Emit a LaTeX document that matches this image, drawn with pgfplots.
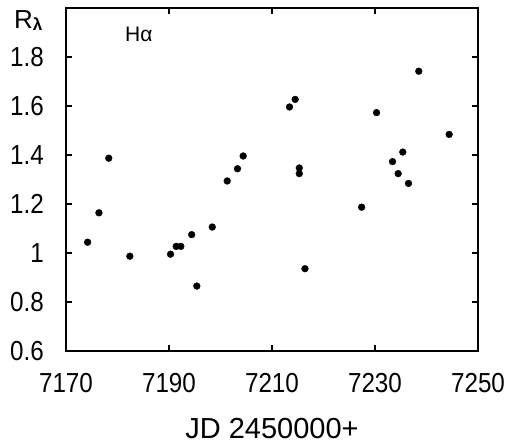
\documentclass[border=0pt]{standalone}
\usepackage{pgfplots}
\pgfplotsset{compat=1.18}
\usepackage{fontspec}
\setmainfont{Liberation Sans}
\newfontfamily\ticksfont{Liberation Sans}[FakeStretch=0.88]

\begin{document}
\begin{tikzpicture}
\path[use as bounding box] (0,0) rectangle (505pt,445pt);
\begin{axis}[
  at={(66pt,94pt)}, anchor=south west,
  scale only axis, width=412pt, height=343pt,
  xmin=7170, xmax=7250, ymin=0.6, ymax=2.0,
  xtick={7170,7190,7210,7230,7250},
  xticklabels={7170,7190,7210,7230,7250},
  ytick={0.6,0.8,1,1.2,1.4,1.6,1.8},
  yticklabels={0.6,0.8,1,1.2,1.4,1.6,1.8},
  /pgf/number format/assume math mode=true,
  tick align=inside, major tick length=6pt,
  axis line style={line width=1.6pt, black},
  tick style={line width=1.5pt, black},
  xticklabel style={font=\fontsize{27.5}{30}\selectfont\ticksfont, anchor=north, inner sep=0pt, yshift=-22pt},
  yticklabel style={font=\fontsize{27.5}{30}\selectfont\ticksfont, anchor=east, inner sep=0pt, xshift=-22pt},
  xlabel={JD 2450000+},
  xlabel style={at={(axis description cs:0.5,0)}, anchor=north, inner sep=0pt, yshift=-67pt, font=\fontsize{29}{32}\selectfont},
  clip=false,
]
\addplot[only marks, mark=*, mark size=3.4pt, black] coordinates {
(7174.2,1.044)
(7176.4,1.164)
(7178.3,1.387)
(7182.4,0.987)
(7190.3,0.995)
(7191.4,1.027)
(7192.3,1.027)
(7194.4,1.075)
(7195.4,0.865)
(7198.4,1.106)
(7201.3,1.294)
(7203.3,1.344)
(7204.4,1.396)
(7213.4,1.596)
(7214.5,1.627)
(7215.3,1.347)
(7215.3,1.324)
(7216.4,0.936)
(7227.4,1.187)
(7230.3,1.573)
(7233.4,1.373)
(7234.5,1.324)
(7235.4,1.412)
(7236.5,1.284)
(7238.5,1.742)
(7244.4,1.484)
};
\end{axis}
\node[anchor=base west, inner sep=0pt, font=\fontsize{26}{28}\selectfont] at (14pt,416pt) {R\raisebox{-2pt}{\fontsize{17}{18}\selectfont\bfseries λ}};
\node[anchor=base west, inner sep=0pt, font=\fontsize{21}{24}\selectfont] at (125pt,403pt) {Hα};
\end{tikzpicture}
\end{document}
